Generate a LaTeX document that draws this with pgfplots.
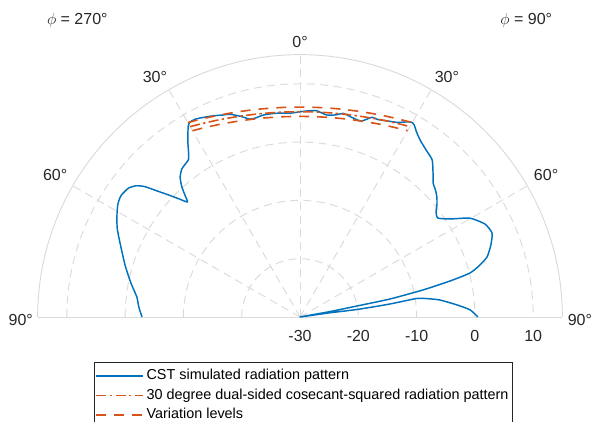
\documentclass[border=0pt]{standalone}
\usepackage{pgfplots}
\pgfplotsset{compat=1.18}
\usepackage{pgfplotstable}
\usepackage{fontspec}
\setmainfont{Liberation Sans}
\definecolor{mblue}{RGB}{0,114,189}
\definecolor{morange}{RGB}{217,83,25}
\definecolor{morangeb}{RGB}{218,84,26}
\definecolor{gridc}{HTML}{DADADA}
\definecolor{txt}{HTML}{262626}

\pgfplotstableread{
th r
-90 -2.9
-86.5 -2.3
-83 -1.8
-78.6 -0.4
-73.5 1.3
-67.6 3.4
-64 4.9
-60.4 6.1
-58 6.8
-55.8 7.1
-53.1 6.8
-51.3 6.0
-50.0 4.8
-48.6 2.7
-47.0 0.6
-45.6 -1.1
-44.4 -2.4
-43.4 -1.3
-42.2 0.2
-40.6 1.6
-38.6 2.5
-36.8 2.8
-35.3 3.1
-34 4.2
-32.8 5.5
-31.3 7.0
-30.4 7.9
-29.5 8.4
-28.0 8.4
-26.7 8.2
-23.4 7.6
-21 7.1
-19.1 6.8
-16.5 5.9
-14.2 5.0
-12.3 5.0
-10.4 5.2
-7 5.2
-2.8 5.0
0 5.2
2.5 5.4
4.6 5.5
7.5 4.95
10 5.2
12 5.7
14.3 5.4
17.3 5.2
19.8 6.4
21.5 6.4
23.3 6.7
26.5 7.3
28.6 8.1
29.8 8.5
30.8 8.3
32.0 7.6
34.1 6.7
37 5.9
40.1 5.2
43.1 3.4
44.8 2.4
47.0 1.8
48.8 1.2
50.6 0.4
52.3 -0.5
54.3 -0.9
56.8 0.7
59.8 3.7
63.3 5.5
66.4 5.95
69.3 5.0
72.2 3.7
74.0 2.0
75.5 0.1
76.5 -3.5
77.6 -8.4
78.7 -14.3
79.1 -20.2
79.8 -25
80.8 -30
82.0 -25
82.5 -20
81.8 -14.5
81.0 -9.7
82.0 -7.6
83.1 -5.8
85.6 -3.0
87.6 -0.8
90 0.5
}\cstdata

\pgfplotstableread{
th mid up lo
-30 7.70 8.50 6.90
-27.5 7.28 8.08 6.48
-25 6.91 7.71 6.11
-22.5 6.58 7.38 5.78
-20 6.28 7.08 5.48
-17.5 6.02 6.82 5.22
-15 5.80 6.60 5.00
-12.5 5.62 6.42 4.82
-10 5.47 6.27 4.67
-7.5 5.35 6.15 4.55
-5 5.27 6.07 4.47
-2.5 5.22 6.02 4.42
0 5.20 6.00 4.40
2.5 5.22 6.02 4.42
5 5.27 6.07 4.47
7.5 5.35 6.15 4.55
10 5.47 6.27 4.67
12.5 5.62 6.42 4.82
15 5.80 6.60 5.00
17.5 6.02 6.82 5.22
20 6.28 7.08 5.48
22.5 6.58 7.38 5.78
25 6.91 7.71 6.11
27.5 7.28 8.08 6.48
30 7.70 8.50 6.90
}\cosecdata

\begin{document}
\begin{tikzpicture}
\begin{axis}[
  hide axis,
  x=4.3725pt, y=4.3725pt,
  xmin=-45, xmax=45, ymin=0, ymax=45,
  clip=false,
  legend cell align=left,
  legend image code/.code={\draw[#1] (0pt,0pt) -- (35pt,0pt);},
  legend style={at={(0.10744,-0.1704)}, anchor=north west,
    draw=txt, inner xsep=1pt, inner ysep=3.4pt,
    font=\fontsize{10.8}{13}\selectfont, text=black,
    nodes={inner sep=2pt, text height=8pt, text depth=2.6pt},
    row sep=0pt},
]
\draw[gridc, line width=0.7pt, dash pattern=on 6pt off 4pt] (axis cs:-10,0) arc[start angle=180, end angle=0, radius=43.725pt];
\draw[gridc, line width=0.7pt, dash pattern=on 6pt off 4pt] (axis cs:-20,0) arc[start angle=180, end angle=0, radius=87.45pt];
\draw[gridc, line width=0.7pt, dash pattern=on 6pt off 4pt] (axis cs:-30,0) arc[start angle=180, end angle=0, radius=131.175pt];
\draw[gridc, line width=0.7pt, dash pattern=on 6pt off 4pt] (axis cs:-40,0) arc[start angle=180, end angle=0, radius=174.9pt];
\draw[gridc, line width=0.7pt, dash pattern=on 6pt off 4pt] (axis cs:0,0) -- (axis cs:0,45);
\draw[gridc, line width=0.7pt, dash pattern=on 6pt off 4pt] (axis cs:0,0) -- (axis cs:22.5,38.971);
\draw[gridc, line width=0.7pt, dash pattern=on 6pt off 4pt] (axis cs:0,0) -- (axis cs:-22.5,38.971);
\draw[gridc, line width=0.7pt, dash pattern=on 6pt off 4pt] (axis cs:0,0) -- (axis cs:38.971,22.5);
\draw[gridc, line width=0.7pt, dash pattern=on 6pt off 4pt] (axis cs:0,0) -- (axis cs:-38.971,22.5);
\draw[gridc, line width=0.7pt] (axis cs:-45,0) arc[start angle=180, end angle=0, radius=196.7625pt];
\draw[gridc, line width=0.7pt] (axis cs:-45,0) -- (axis cs:45,0);

\addplot[draw=mblue, line width=1.1pt, smooth, tension=0.35, line join=round] table[x expr={(\thisrow{r}+30)*sin(\thisrow{th})}, y expr={(\thisrow{r}+30)*cos(\thisrow{th})}] {\cstdata};
\addlegendentry{CST simulated radiation pattern}
\addlegendimage{draw=morangeb, line width=1.2pt, dash pattern=on 7.5pt off 2.5pt on 1.8pt off 2.5pt}
\addlegendentry{30 degree dual-sided cosecant-squared radiation pattern}
\addplot[draw=morange, line width=1.2pt, smooth, dash pattern=on 7.5pt off 6pt] table[x expr={(\thisrow{up}+30)*sin(\thisrow{th})}, y expr={(\thisrow{up}+30)*cos(\thisrow{th})}] {\cosecdata};
\addlegendentry{Variation levels}
\addplot[draw=morange, line width=1.2pt, smooth, dash pattern=on 7.5pt off 6pt, forget plot] table[x expr={(\thisrow{lo}+30)*sin(\thisrow{th})}, y expr={(\thisrow{lo}+30)*cos(\thisrow{th})}] {\cosecdata};
\addplot[draw=morangeb, line width=1.2pt, smooth, dash pattern=on 7.5pt off 2.5pt on 1.8pt off 2.5pt, forget plot] table[x expr={(\thisrow{mid}+30)*sin(\thisrow{th})}, y expr={(\thisrow{mid}+30)*cos(\thisrow{th})}] {\cosecdata};

\begin{scope}[every node/.style={text=txt, font=\fontsize{12}{14}\selectfont, inner sep=0pt}]
\node at (axis cs:0,47.2) {0°};
\node at (axis cs:-24.9,41.2) {30°};
\node at (axis cs:25.2,41.2) {30°};
\node at (axis cs:-42.0,24.4) {60°};
\node at (axis cs:42.2,24.4) {60°};
\node at (axis cs:-47.9,-0.5) {90°};
\node at (axis cs:48.0,-0.5) {90°};
\node at (axis cs:0,-3.3) {-30};
\node at (axis cs:10,-3.3) {-20};
\node at (axis cs:20,-3.3) {-10};
\node at (axis cs:30,-3.3) {0};
\node at (axis cs:40,-3.3) {10};
\node[anchor=base] at (axis cs:-38.2,50.1) {$\phi$ = 270°};
\node[anchor=base] at (axis cs:38.8,50.1) {$\phi$ = 90°};
\end{scope}
\coordinate (bbBL) at (axis cs:-51.46,-18.01);
\coordinate (bbTR) at (axis cs:49.91,54.37);
\end{axis}
\pgfresetboundingbox
\path[use as bounding box] (bbBL) rectangle (bbTR);
\end{tikzpicture}
\end{document}
